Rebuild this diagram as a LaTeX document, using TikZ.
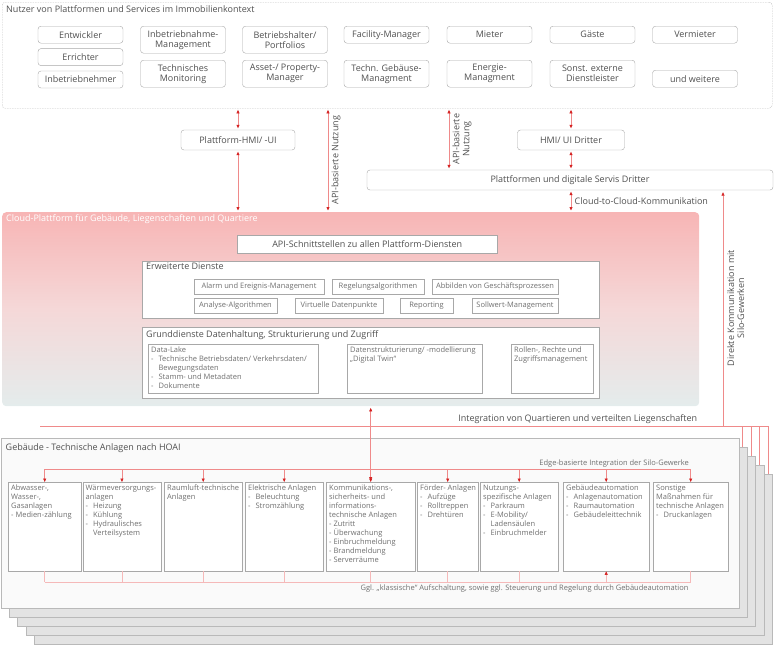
\documentclass[tikz,border=0pt]{standalone}
\usepackage{fontspec}
\setmainfont{Open Sans}
\usepackage{tikz}
\usetikzlibrary{arrows.meta,positioning,calc}

\definecolor{txtgray}{HTML}{505050}
\definecolor{smallgray}{HTML}{707070}
\definecolor{boxgray}{HTML}{A8A8A8}
\definecolor{linered}{HTML}{EF8A8A}
\definecolor{tipred}{HTML}{D42020}
\definecolor{pinktop}{HTML}{F7B5B5}
\definecolor{pinkmid}{HTML}{F5D8D8}
\definecolor{cloudbot}{HTML}{E4ECEC}
\definecolor{layergray}{HTML}{E3E3E3}
\definecolor{frontgray}{HTML}{FAFAFA}

\newcommand{\itemdash}{-\hspace{5pt}}
\newcommand{\itemgap}{\hphantom{\itemdash}}

\tikzset{
  txt/.style={text=txtgray,font=\fontsize{9}{10}\selectfont},
  smalltxt/.style={text=smallgray,font=\fontsize{7.5}{9}\selectfont},
  userbox/.style={txt,draw=boxgray,rounded corners=3pt,fill=white,minimum width=85pt,minimum height=17pt,inner sep=1pt,align=center,anchor=north},
  userbox2/.style={userbox,minimum height=27pt},
  midbox/.style={txt,draw=boxgray,rounded corners=3pt,fill=white,minimum height=20pt,inner sep=1pt},
  panel/.style={draw=boxgray,fill=white,anchor=north west,inner sep=0pt},
  svcbox/.style={smalltxt,draw=boxgray,fill=white,minimum height=15pt,inner sep=1pt},
  ptitle/.style={txt,anchor=north west,inner sep=0pt},
  intxt/.style={smalltxt,anchor=north west,align=left,inner sep=3pt},
  redline/.style={draw=linered,line width=0.6pt},
  pinkline/.style={draw=linered!60,line width=0.6pt},
  link/.style={redline,<->,shorten <=1.5pt,shorten >=1.5pt},
  layerbox/.style={draw=gray!55,fill=layergray,anchor=north west,minimum width=738pt,minimum height=170pt,inner sep=0pt}
}

\begin{document}
\begin{tikzpicture}[x=1pt,y=-1pt,>={Triangle[length=3.5pt,width=3pt,color=tipred]}]
\useasboundingbox (0,0) rectangle (774,645);

\node[draw=gray!50,dash pattern=on 1.5pt off 1pt,rounded corners=3pt,anchor=north west,minimum width=770pt,minimum height=106pt,inner sep=0pt] (users) at (2,2) {};
\node[ptitle] (usersT) at (6,5) {Nutzer von Plattformen und Services im Immobilienkontext};

\node[userbox] (entw) at (80.5,26) {Entwickler};
\node[userbox,below=5pt of entw] (erri) {Errichter};
\node[userbox,below=5pt of erri] (inbn) {Inbetriebnehmer};
\node[userbox2] (inbm) at (183,26) {Inbetriebnahme-\\Management};
\node[userbox2] (tmon) at (183,60) {Technisches\\Monitoring};
\node[userbox2] (betr) at (285,26) {Betriebshalter/\\Portfolios};
\node[userbox2] (asset) at (285,60) {Asset-/ Property-\\Manager};
\node[userbox] (fm) at (386.5,26) {Facility-Manager};
\node[userbox2] (tgm) at (386.5,60) {Techn. Gebäuse-\\Managment};
\node[userbox] (mieter) at (489.5,26) {Mieter};
\node[userbox2] (energ) at (489.5,60) {Energie-\\Managment};
\node[userbox] (gaeste) at (592.5,26) {Gäste};
\node[userbox2] (sonst) at (592.5,60) {Sonst. externe\\Dienstleister};
\node[userbox] (verm) at (695,26) {Vermieter};
\node[userbox] (weitere) at (695,70) {und weitere};

\node[midbox,minimum width=114pt] (hmi) at (238,140) {Plattform-HMI/ -UI};
\node[midbox,minimum width=107pt] (hmid) at (571,140) {HMI/ UI Dritter};
\node[midbox,minimum width=406pt] (dritt) at (570,180) {Plattformen und digitale Servis Dritter};

\node[anchor=north west,minimum width=697pt,minimum height=194pt,inner sep=0pt,rounded corners=4pt,top color=pinktop,bottom color=cloudbot,middle color=pinkmid] (cloud) at (2,212) {};
\node[ptitle,text=white] (cloudT) at (6,214) {Cloud-Plattform für Gebäude, Liegenschaften und Quartiere};
\node[panel,txt,minimum width=260pt,minimum height=18pt] (api) at (237,235) {API-Schnittstellen zu allen Plattform-Diensten};

\node[panel,minimum width=457pt,minimum height=57pt] (erw) at (142,261) {};
\node[ptitle] (erwT) at ([xshift=4pt,yshift=-2pt]erw.north west) {Erweiterte Dienste};
\node[svcbox,minimum width=130pt] (alarm) at (259,286.5) {Alarm und Ereignis-Management};
\node[svcbox,minimum width=92pt] (regel) at (378,286.5) {Regelungsalgorithmen};
\node[svcbox,minimum width=126pt] (gesch) at (495,286.5) {Abbilden von Geschäftsprozessen};
\node[svcbox,minimum width=83pt] (analyse) at (235.5,305.5) {Analyse-Algorithmen};
\node[svcbox,minimum width=88pt] (virt) at (339,305.5) {Virtuelle Datenpunkte};
\node[svcbox,minimum width=53pt] (report) at (426.5,305.5) {Reporting};
\node[svcbox,minimum width=86pt] (soll) at (515,305.5) {Sollwert-Management};

\node[panel,minimum width=457pt,minimum height=71pt] (grund) at (142,327) {};
\node[ptitle] (grundT) at ([xshift=4pt,yshift=-3pt]grund.north west) {Grunddienste Datenhaltung, Strukturierung und Zugriff};
\node[panel,minimum width=170pt,minimum height=49pt] (dlake) at (148,344) {};
\node[intxt] (dlakeT) at (dlake.north west) {Data-Lake\\\itemdash Technische Betriebsdaten/ Verkehrsdaten/\\\itemgap Bewegungsdaten\\\itemdash Stamm- und Metadaten\\\itemdash Dokumente};
\node[panel,minimum width=135pt,minimum height=49pt] (struk) at (347,344) {};
\node[intxt] (strukT) at (struk.north west) {Datenstrukturierung/ -modellierung\\„Digital Twin“};
\node[panel,minimum width=82pt,minimum height=49pt] (rollen) at (511,344) {};
\node[intxt] (rollenT) at (rollen.north west) {Rollen-, Rechte und\\Zugriffsmanagement};

\draw[link] (hmi |- users.south)--(hmi);
\draw[link] (hmi)--(hmi |- cloud.north);
\coordinate (api1) at (328,0);
\draw[link] (api1 |- users.south)--node[midway,rotate=90,below,txt]{API-basierte Nutzung}(api1 |- cloud.north);
\coordinate (api2) at (449,0);
\draw[link] (api2 |- users.south)--node[midway,rotate=90,below,txt,align=center]{API-basierte\\Nutzung}(api2 |- dritt.north);
\draw[link] (hmid |- users.south)--(hmid);
\draw[link] (hmid)--(hmid |- dritt.north);
\draw[link] (hmid |- dritt.south)--node[midway,right,txt]{Cloud-to-Cloud-Kommunikation}(hmid |- cloud.north);

\foreach \i in {4,3,2,1}
  \node[layerbox] (layer\i) at (\i*8.5,438+\i*9) {};
\node[layerbox,fill=frontgray] (bldg) at (0.5,438) {};
\node[ptitle] (bldgT) at ([xshift=5pt,yshift=-5pt]bldg.north west) {Gebäude - Technische Anlagen nach HOAI};

\coordinate (intL) at (40,426);
\foreach \i in {1,...,4} {
  \coordinate (drop\i) at ([xshift=-4.5pt]layer\i.north east);
  \draw[redline] (drop\i |- intL)--(drop\i);
}
\draw[redline] (intL)--(drop4 |- intL);
\node[txt,anchor=south east,inner sep=2pt] (integT) at (cloud.south east |- intL) {Integration von Quartieren und verteilten Liegenschaften};
\coordinate (dirX) at (723,0);
\draw[redline,<-,shorten <=2pt] (dirX |- dritt.south)--node[midway,rotate=90,below,txt,align=center,inner sep=4pt]{Direkte Kommunikation mit\\Silo-Gewerken}(dirX |- intL);

\foreach \i/\xa/\xb in {1/8/81,2/82.5/161,3/164/242,4/245/323,5/326/415,6/417/478,7/480/558,8/563/649,9/653/728}
  \node[panel,minimum width={(\xb-\xa)*1pt},minimum height=89pt] (sys\i) at (\xa,482) {};
\node[intxt] (sys1T) at (sys1.north west) {Abwasser-,\\Wasser-,\\Gasanlagen\\- Medien-zählung};
\node[intxt] (sys2T) at (sys2.north west) {Wärmeversorgungs-\\anlagen\\\itemdash Heizung\\\itemdash Kühlung\\\itemdash Hydraulisches\\\itemgap Verteilsystem};
\node[intxt] (sys3T) at (sys3.north west) {Raumluft-technische\\Anlagen};
\node[intxt] (sys4T) at (sys4.north west) {Elektrische Anlagen\\\itemdash Beleuchtung\\\itemdash Stromzählung};
\node[intxt] (sys5T) at (sys5.north west) {Kommunikations-,\\sicherheits- und\\informations-\\technische Anlagen\\- Zutritt\\- Überwachung\\- Einbruchmeldung\\- Brandmeldung\\- Serverräume};
\node[intxt] (sys6T) at (sys6.north west) {Förder- Anlagen\\\itemdash Aufzüge\\\itemdash Rolltreppen\\\itemdash Drehtüren};
\node[intxt] (sys7T) at (sys7.north west) {Nutzungs-\\spezifische Anlagen\\\itemdash Parkraum\\\itemdash E-Mobility/\\\itemgap Ladensäulen\\\itemdash Einbruchmelder};
\node[intxt] (sys8T) at (sys8.north west) {Gebäudeautomation\\\itemdash Anlagenautomation\\\itemdash Raumautomation\\\itemdash Gebäudeleittechnik};
\node[intxt] (sys9T) at (sys9.north west) {Sonstige\\Maßnahmen für\\technische Anlagen\\\itemdash Druckanlagen};

\coordinate (edgeY) at (0,469);
\draw[redline] (sys1 |- edgeY)--(sys9 |- edgeY) node[pos=1,above left,smalltxt,inner sep=1.5pt] (edgeT) {Edge-basierte Integration der Silo-Gewerke};
\foreach \i in {1,...,9}
  \draw[redline,->] (sys\i |- edgeY)--(sys\i);
\draw[link] (cloud.south -| sys5)--(sys5);

\coordinate (aufY) at (0,582);
\foreach \i in {1,...,7,9}
  \draw[pinkline] (sys\i.south)--(sys\i.south |- aufY);
\draw[pinkline] (sys1.south |- aufY)--(sys9.south |- aufY) node[pos=1,below left,smalltxt,inner sep=2pt] (aufT) {Ggl. „klassische“ Aufschaltung, sowie ggl. Steuerung und Regelung durch Gebäudeautomation};
\draw[pinkline,->] (sys8.south |- aufY)--(sys8.south);
\end{tikzpicture}
\end{document}
